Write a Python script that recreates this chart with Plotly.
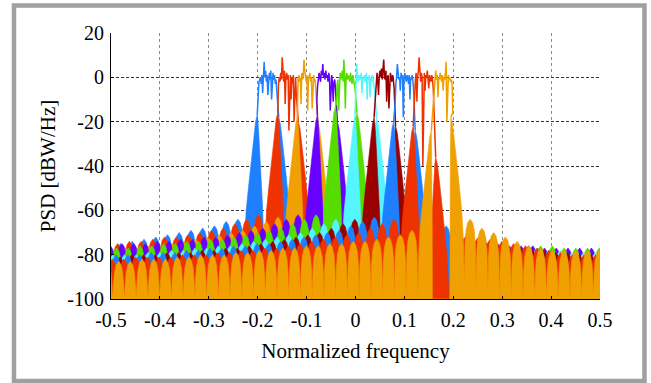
import plotly.graph_objects as go

# ---- data -----------------------------------------------------------------
# Ten adjacent subcarrier bands, each 0.04 wide (normalized frequency)
BAND_LEFT = [-0.20, -0.16, -0.12, -0.08, -0.04, 0.00, 0.04, 0.08, 0.12, 0.16]
BAND_WIDTH = 0.04

COLORS = ["#1f80ff", "#ee3300", "#f0a000", "#6600ff", "#55dd00",
          "#55f5ff", "#990000", "#1f80ff", "#ee3300", "#f0a000"]

# In-band PSD ripple [dBW/Hz], sampled edge to edge
RIPPLE = [
    [-4, -2, -1, 0, -3, 1, -7, 2, 7, 0, 3, -2, 1, -8, 0, 2, -1, 3, -10, 0, 2, -1, 1, -3, -1, -6],
    [-5, -3, 0, -2, 2, -1, 9, 1, -2, 3, -12, 0, 2, -1, 1, -24, -2, 1, -10, 0, -3, 1, -20, -2, 0, -8],
    [-3, -1, 1, -2, 0, -12, 2, -1, 1, 8, 3, 0, -2, 1, -15, -1, 0, 2, -2, 0, -14, -1, 1, -2, -1, -6],
    [-10, -4, -1, 2, 0, -2, 3, 1, 6, 0, 2, -1, 3, 0, 1, -2, 2, 0, -15, -1, 1, -3, -11, -2, -1, -5],
    [-12, -3, -1, -15, 0, 2, -1, 1, 3, -2, 8, 1, -14, 0, 2, -1, 1, 0, -2, 2, 0, -3, 1, -1, -2, -5],
    [-4, 6, 0, -2, 1, -1, 0, 2, -7, 0, -1, 1, -2, 0, 2, -10, 0, -1, 1, -9, 0, -2, 1, -1, -3, -6],
    [-6, 0, 2, -2, -8, 1, 3, 0, 4, -1, 2, 8, 0, -1, 3, -11, 0, 1, -14, -1, 2, 0, -2, 1, -1, -5],
    [-12, -3, 0, 6, 1, -1, 0, -6, 2, 0, 1, -18, -1, 2, 0, -2, 1, 0, -3, 1, -10, 0, -1, 1, -2, -6],
    [-4, -1, 2, -11, 0, 3, 9, 1, -2, 2, 0, -40, -1, 2, -6, 1, 0, 3, -1, -5, 1, 0, -2, 1, -1, -5],
    [-3, 0, 3, -1, 1, -9, 0, -1, 2, 0, -2, 1, -6, 0, -1, 2, 7, -20, 0, 1, -1, 0, -2, -1, -3, -16],
]

# Frequency and level of the transition lobe at each band edge
LOBE_FL = [-0.201, -0.159, -0.119, -0.078, -0.041, -0.001, 0.038, 0.078, 0.118, 0.155]
LOBE_FR = [-0.157, -0.117, -0.077, -0.037, 0.003, 0.043, 0.082, 0.122, 0.164, 0.195]
APEX_L = [-17, -16, -18, -17, -13, -18, -18, -20, -22, -24]
APEX_R = [-18, -20, -20, -20, -16, -18, -22, -24, -36, -18]
# Relative width of the in-band flank of each edge lobe
INNER_L = [0.5, 0.5, 0.5, 0.5, 0.5, 0.5, 0.5, 0.5, 0.5, 0.08]
INNER_R = [0.5, 0.5, 0.5, 0.5, 0.5, 0.5, 0.5, 0.5, 0.5, 0.08]

# Side-lobe peak levels, counted outward from each band edge [dBW/Hz]
SIDE_L = [
    [-64, -65, -67, -68, -69, -70, -71, -72, -73, -74, -75, -75, -76],
    [-62, -64, -66, -68, -69, -70, -71, -72, -72, -73, -74, -74, -75, -75],
    [-63, -65, -67, -69, -70, -71, -72, -73, -74, -75, -76, -76, -77, -77, -78, -78],
    [-62, -64, -66, -68, -69, -70, -71, -72, -72, -73, -73, -74, -74, -75, -75, -75, -76, -76],
    [-62, -64, -66, -68, -69, -70, -71, -72, -73, -73, -74, -74, -75, -75, -76, -76, -77, -77, -77],
    [-64, -66, -68, -70, -71, -72, -73, -74, -75, -76, -76, -77, -77, -78, -78, -79, -79, -80, -80, -80, -80],
    [-64, -66, -68, -70, -71, -72, -73, -74, -75, -76, -77, -77, -78, -78, -79, -79, -79, -80, -80, -80, -81, -81, -81],
    [-63, -65, -67, -69, -70, -71, -72, -73, -74, -75, -75, -76, -76, -77, -77, -78, -78, -79, -79, -79, -80, -80, -80, -80],
    [-64, -66, -68, -70, -71, -72, -73, -74, -75, -76, -77, -77, -78, -78, -79, -79, -80, -80, -80, -81, -81, -81, -81, -82, -82, -82],
    [-69, -71, -72, -73, -74, -74, -75, -75, -76, -76, -77, -77, -78, -78, -79, -79, -80, -80, -80, -81, -81, -82, -82, -82, -83, -83, -83, -83],
]
SIDE_R = [
    [-63, -66, -68, -70, -71, -72, -73, -74, -75, -76, -77, -77, -78, -78, -79, -79, -79, -80, -80, -80, -80, -80, -80, -80, -80, -80, -80, -80],
    [-63, -66, -68, -70, -71, -72, -73, -74, -75, -76, -77, -78, -78, -79, -79, -80, -80, -80, -81, -81, -81, -81, -81, -81, -81, -81],
    [-64, -66, -68, -70, -71, -72, -73, -74, -75, -76, -77, -77, -78, -78, -79, -79, -79, -80, -80, -80, -80, -80, -80, -80],
    [-63, -65, -67, -69, -70, -71, -72, -73, -73, -74, -74, -75, -75, -76, -76, -76, -77, -77, -77, -77, -77, -77, -77],
    [-62, -65, -67, -68, -70, -71, -72, -73, -73, -74, -74, -75, -75, -76, -76, -76, -77, -77, -77, -77, -77],
    [-63, -66, -68, -70, -71, -72, -73, -74, -75, -76, -76, -77, -77, -78, -78, -79, -79, -79, -79],
    [-64, -67, -69, -71, -72, -73, -74, -75, -76, -77, -78, -78, -79, -79, -80, -80, -81, -81],
    [-64, -67, -69, -71, -72, -73, -74, -75, -76, -77, -78, -79, -79, -80, -80, -80],
    [-68, -71, -72, -73, -74, -75, -76, -77, -78, -79, -80, -80, -80, -80],
    [-64, -68, -70, -72, -74, -76, -77, -78, -78, -78, -78, -78, -78],
]

X_TICKS = [-0.5, -0.4, -0.3, -0.2, -0.1, 0.0, 0.1, 0.2, 0.3, 0.4, 0.5]
X_LABELS = ["-0.5", "-0.4", "-0.3", "-0.2", "-0.1", "0", "0.1", "0.2", "0.3", "0.4", "0.5"]
Y_TICKS = [-100, -80, -60, -40, -20, 0, 20]
Y_LABELS = ["-100", "-80", "-60", "-40", "-20", "0", "20"]

# ---- lobe shapes ------------------------------------------------------------
FLOOR = -100.0
LOBE_STEP = 0.024          # side-lobe spacing
FIRST_LOBE = 0.0395        # first side lobe, measured from the edge lobe centre
MAIN_D = [0.0, 0.0033, 0.0066, 0.0105, 0.0145, 0.0185, 0.0225, 0.0255, 0.0275]
MAIN_DB = [0, -3, -9, -16, -25, -34, -43, -55, -75]
SIDE_U = [-0.5, -0.44, -0.35, -0.2, 0.0, 0.2, 0.35, 0.44]
SIDE_DB = [-30, -11, -5, -1.5, 0, -1.5, -5, -11]


def clip(v):
    return max(FLOOR, v)


def band_outline(k):
    """Closed outline of the skirts and side lobes of band k."""
    cL, cR = LOBE_FL[k], LOBE_FR[k]
    xs, ys = [], []
    # left side lobes, outermost first
    for j in reversed(range(len(SIDE_L[k]))):
        pc = cL - FIRST_LOBE - LOBE_STEP * j
        for u, db in zip(SIDE_U, SIDE_DB):
            xs.append(pc + u * LOBE_STEP)
            ys.append(clip(SIDE_L[k][j] + db))
    xs.insert(0, xs[0])
    ys.insert(0, FLOOR)
    # left edge lobe: outer flank, then the steeper in-band flank
    for d, db in reversed(list(zip(MAIN_D, MAIN_DB))):
        xs.append(cL - d)
        ys.append(clip(APEX_L[k] + db))
    for d, db in zip(MAIN_D[1:], MAIN_DB[1:]):
        xs.append(cL + d * INNER_L[k])
        ys.append(clip(APEX_L[k] + db))
    xs.append(xs[-1])
    ys.append(FLOOR)
    # right edge lobe
    xs.append(cR - MAIN_D[-1] * INNER_R[k])
    ys.append(FLOOR)
    for d, db in reversed(list(zip(MAIN_D[1:], MAIN_DB[1:]))):
        xs.append(cR - d * INNER_R[k])
        ys.append(clip(APEX_R[k] + db))
    for d, db in zip(MAIN_D, MAIN_DB):
        xs.append(cR + d)
        ys.append(clip(APEX_R[k] + db))
    # right side lobes
    for j in range(len(SIDE_R[k])):
        pc = cR + FIRST_LOBE + LOBE_STEP * j
        for u, db in zip(SIDE_U[1:] + [0.5], SIDE_DB[1:] + [SIDE_DB[0]]):
            xs.append(pc + u * LOBE_STEP)
            ys.append(clip(SIDE_R[k][j] + db))
    xs.append(xs[-1])
    ys.append(FLOOR)
    return xs, ys


def band_passband(k):
    L = BAND_LEFT[k]
    n = len(RIPPLE[k])
    xs = ([LOBE_FL[k]]
          + [L + 0.001 + i * (BAND_WIDTH - 0.002) / (n - 1) for i in range(n)]
          + [LOBE_FR[k]])
    ys = [APEX_L[k]] + RIPPLE[k] + [APEX_R[k]]
    return xs, ys


fig = go.Figure()
for k in range(len(BAND_LEFT)):
    ox, oy = band_outline(k)
    fig.add_trace(go.Scatter(
        x=ox, y=oy, mode="lines", fill="toself", fillcolor=COLORS[k],
        line=dict(color=COLORS[k], width=0.6), hoverinfo="skip", showlegend=False))
    px, py = band_passband(k)
    fig.add_trace(go.Scatter(
        x=px, y=py, mode="lines", line=dict(color=COLORS[k], width=1.5),
        hoverinfo="skip", showlegend=False))

FONT = "Liberation Serif, Times New Roman, serif"

fig.update_layout(
    width=651, height=383,
    margin=dict(l=111, r=51, t=33, b=84),
    paper_bgcolor="white", plot_bgcolor="white",
    font=dict(family=FONT, size=20, color="black"),
    xaxis=dict(
        range=[-0.5, 0.5], tickvals=X_TICKS, ticktext=X_LABELS,
        showline=True, linecolor="black", linewidth=1,
        ticks="inside", ticklen=3, tickcolor="black", ticklabelstandoff=3,
        showgrid=True, gridcolor="#8a8a8a", gridwidth=1, griddash="dot",
        zeroline=False, tickfont=dict(family=FONT, size=20, color="black"),
        title=dict(text="Normalized frequency", font=dict(family=FONT, size=21), standoff=13),
    ),
    yaxis=dict(
        range=[-100, 20], tickvals=Y_TICKS, ticktext=Y_LABELS,
        showline=True, linecolor="black", linewidth=1,
        ticks="inside", ticklen=3, tickcolor="black", ticklabelstandoff=2,
        showgrid=True, gridcolor="#333333", gridwidth=1, griddash="3px,2px",
        zeroline=False, tickfont=dict(family=FONT, size=20, color="black"),
        title=dict(text="PSD [dBW/Hz]", font=dict(family=FONT, size=21), standoff=5),
    ),
    shapes=[dict(type="rect", xref="paper", yref="paper",
                 x0=-0.1984, x1=1.091, y0=-0.308, y1=1.1034,
                 line=dict(color="#a0a0a0", width=4.5), fillcolor="rgba(0,0,0,0)")],
)

fig.write_html("out.html")
